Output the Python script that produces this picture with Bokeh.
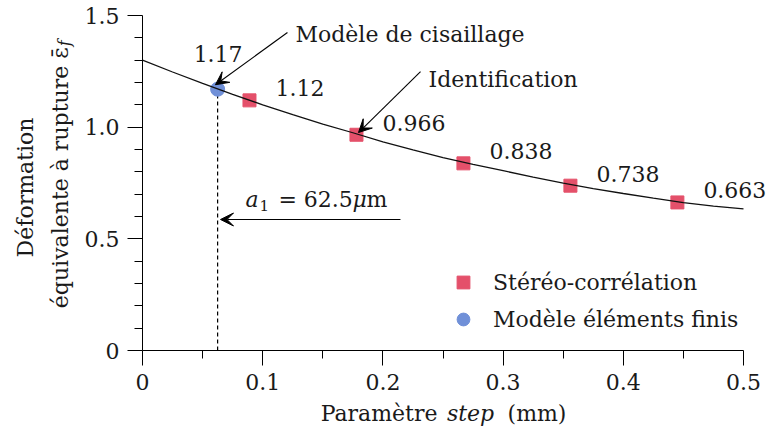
import math
from bokeh.plotting import figure
from bokeh.models import (Range1d, FixedTicker, Arrow, VeeHead, LabelSet, Legend,
                          LegendItem, ColumnDataSource)
from bokeh.core.properties import value
from bokeh.embed import file_html
from bokeh.resources import INLINE

# ---------------- data ----------------
step_exp = [0.089, 0.178, 0.267, 0.356, 0.445]          # Stéréo-corrélation
eps_exp = [1.12, 0.966, 0.838, 0.738, 0.663]
step_fe = [0.0625]                                      # Modèle éléments finis
eps_fe = [1.17]
curve_x = [0.0, 0.025, 0.05, 0.075, 0.1, 0.125, 0.15, 0.175, 0.2, 0.225, 0.25,
           0.275, 0.3, 0.325, 0.35, 0.375, 0.4, 0.425, 0.45, 0.475, 0.5]
curve_y = [1.300, 1.247, 1.196, 1.147, 1.100, 1.056, 1.014, 0.975, 0.934, 0.898, 0.864,
           0.833, 0.805, 0.776, 0.749, 0.725, 0.703, 0.682, 0.662, 0.646, 0.634]
x_ticks = [0, 0.1, 0.2, 0.3, 0.4, 0.5]
x_tick_labels = ["0", "0.1", "0.2", "0.3", "0.4", "0.5"]
x_minor = [0.05, 0.15, 0.25, 0.35, 0.45]
y_ticks = [0, 0.5, 1.0, 1.5]
y_tick_labels = ["0", "0.5", "1.0", "1.5"]
y_minor = [0.1, 0.2, 0.3, 0.4, 0.6, 0.7, 0.8, 0.9, 1.1, 1.2, 1.3, 1.4]
x_lim = (0, 0.5)
y_lim = (0, 1.5)
legend_labels = ["Stéréo-corrélation", "Modèle éléments finis"]

# ---------------- layout / style ----------------
W, H = 766, 433
ML, MR, MT, MB = 142, 23, 15, 83          # pixel margins around the axes box
FONT = "DejaVu Serif"
FS = "22px"
TXT = "#1a1a1a"
RED = "#E4506A"
BLUE = "#7090D8"

xs = (W - ML - MR) / (x_lim[1] - x_lim[0])
ys = (H - MT - MB) / (y_lim[1] - y_lim[0])
x_range = Range1d(x_lim[0] - ML / xs, x_lim[1] + MR / xs)
y_range = Range1d(y_lim[0] - MB / ys, y_lim[1] + MT / ys)

p = figure(width=W, height=H, x_range=x_range, y_range=y_range,
           output_backend="svg", toolbar_location=None, title=None,
           min_border=0, min_border_left=0, min_border_right=0,
           min_border_top=0, min_border_bottom=0)
p.outline_line_color = None
p.xgrid.visible = False
p.ygrid.visible = False
p.background_fill_color = "white"
p.border_fill_color = "white"

for ax in (p.xaxis[0], p.yaxis[0]):
    ax.axis_line_color = "black"
    ax.axis_line_width = 1
    ax.major_tick_in = 0
    ax.major_tick_out = 15
    ax.minor_tick_in = 0
    ax.minor_tick_out = 8
    ax.major_tick_line_color = "black"
    ax.minor_tick_line_color = "black"
    ax.major_label_text_font = FONT
    ax.major_label_text_font_size = FS
    ax.major_label_text_color = TXT
    ax.major_label_standoff = 8

p.xaxis.fixed_location = y_lim[0]
p.xaxis.bounds = x_lim
p.yaxis.fixed_location = x_lim[0]
p.yaxis.bounds = y_lim
p.xaxis.ticker = FixedTicker(ticks=x_ticks, minor_ticks=x_minor)
p.xaxis.major_label_overrides = dict(zip(x_ticks, x_tick_labels))
p.yaxis.ticker = FixedTicker(ticks=y_ticks, minor_ticks=y_minor)
p.yaxis.major_label_overrides = dict(zip(y_ticks, y_tick_labels))

# dashed guide at the FE point
p.segment(x0=step_fe, y0=[y_lim[0]] * len(step_fe), x1=step_fe, y1=eps_fe,
          line_color="black", line_width=1.2, line_dash="4 3")

r_exp = p.scatter(step_exp, eps_exp, marker="square", size=13,
                  fill_color=RED, line_color=RED)
r_fe = p.scatter(step_fe, eps_fe, marker="circle", size=14,
                 fill_color=BLUE, line_color=BLUE)

p.line(curve_x, curve_y, line_color="#111111", line_width=1.3)

# value labels next to points
src_exp = ColumnDataSource(dict(x=step_exp, y=eps_exp, t=[str(v) for v in eps_exp]))
src_fe = ColumnDataSource(dict(x=step_fe, y=eps_fe, t=[str(v) for v in eps_fe]))
for src, dx, dy in ((src_exp, 26, 4), (src_fe, -24, 27)):
    p.add_layout(LabelSet(x="x", y="y", text="t", source=src, x_offset=dx, y_offset=dy,
                          text_font=value(FONT), text_font_size=value(FS),
                          text_color=TXT, text_align="left", text_baseline="alphabetic"))

def lab(x, y, text, size=FS, style="normal", align="left", angle=0.0):
    src = ColumnDataSource(dict(x=[x], y=[y], t=[text]))
    p.add_layout(LabelSet(x="x", y="y", text="t", source=src,
                          text_font=value(FONT), text_font_size=value(size),
                          text_font_style=value(style), text_color=TXT,
                          text_align=value(align), text_baseline="alphabetic",
                          angle=angle))

def arrow(x0, y0, x1, y1):
    p.add_layout(Arrow(x_start=x0, y_start=y0, x_end=x1, y_end=y1,
                       line_color="black", line_width=1.1,
                       end=VeeHead(size=13, fill_color="black", line_color="black")))

# annotations
lab(0.1273, 1.3805, "Modèle de cisaillage")
arrow(0.1206, 1.424, 0.0607, 1.19)
lab(0.2379, 1.178, "Identification")
arrow(0.2313, 1.249, 0.1797, 0.976)

lab(0.0857, 0.6403, "a", style="italic")
lab(0.0973, 0.6224, "1", size="15px")
lab(0.1131, 0.6403, "= 62.5")
lab(0.1747, 0.6403, "μ", style="italic")
lab(0.1864, 0.6403, "m")
arrow(0.2146, 0.5866, 0.0649, 0.5866)

# x axis title
lab(0.2454, -0.3179, "Paramètre", align="right")
lab(0.2729, -0.3179, "step", style="italic", align="center")
lab(0.3037, -0.3179, "(mm)")

# y axis title (two lines, rotated)
lab(-0.0907, 0.7299, "Déformation", align="center", angle=math.pi / 2)
lab(-0.0616, 1.357, "équivalente à rupture ε\u0304", align="right", angle=math.pi / 2)
lab(-0.0607, 1.362, "f", size="16px", style="italic", angle=math.pi / 2)

legend = Legend(items=[LegendItem(label=legend_labels[0], renderers=[r_exp]),
                       LegendItem(label=legend_labels[1], renderers=[r_fe])],
                location=(ML + 305, MB + 15), padding=0, margin=0, spacing=5,
                glyph_width=32, glyph_height=32, label_standoff=14,
                label_text_font=FONT, label_text_font_size=FS, label_text_color=TXT,
                border_line_alpha=0, background_fill_alpha=0)
p.add_layout(legend)

open("out.html", "w").write(file_html(p, INLINE))
